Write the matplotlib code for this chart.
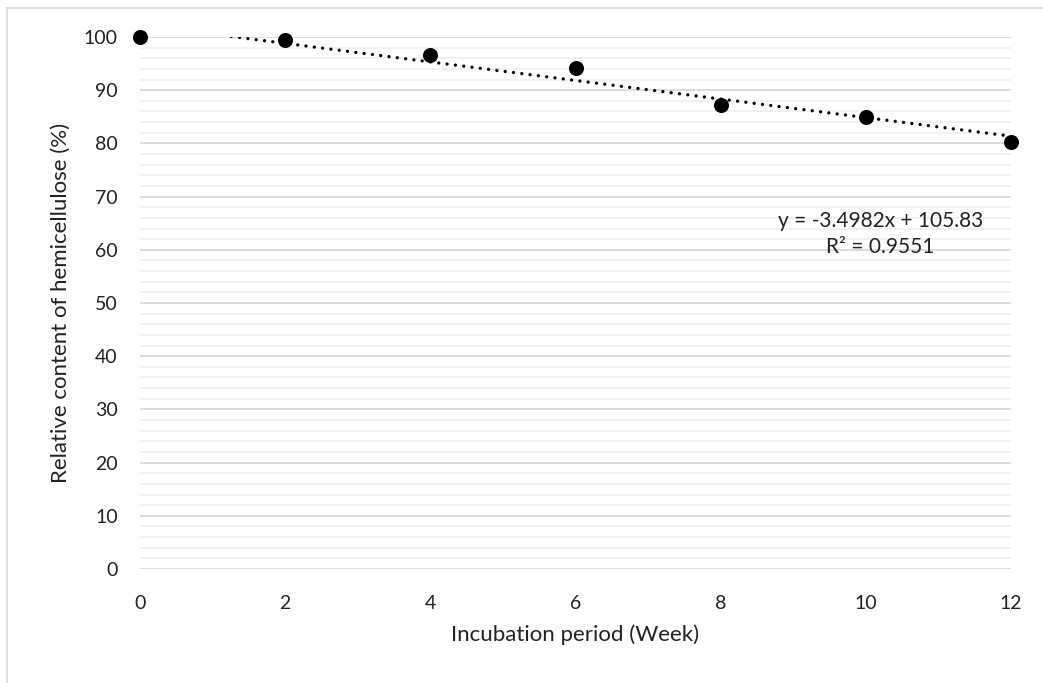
import numpy as np
import matplotlib
matplotlib.use('Agg')
import matplotlib.pyplot as plt
from matplotlib.lines import Line2D

plt.rcParams.update({
    "font.family": ["Lato", "DejaVu Sans"],
    "font.size": 14,
})

# incubation data
weeks = [0, 2, 4, 6, 8, 10, 12]
hemicellulose = [100.0, 99.5, 96.6, 94.2, 87.3, 85.0, 80.2]
equation_text = "y = -3.4982x + 105.83"
r2_text = "R² = 0.9551"


def main():
    fig = plt.figure(figsize=(10.43, 6.83), dpi=100)
    ax = fig.add_axes([140 / 1043, 1 - 569 / 683, 871 / 1043, 532 / 683])

    # excel linear trendline is fitted against the point index (1..n)
    idx = np.arange(1, len(weeks) + 1)
    slope, intercept = np.polyfit(idx, hemicellulose, 1)
    xs = np.linspace(0, 12, 200)
    ax.plot(xs, slope * (xs / 2 + 1) + intercept, color='black', linewidth=2.4,
            linestyle=(0, (0.01, 2.5)), dash_capstyle='round', zorder=3)

    ax.plot(weeks, hemicellulose, linestyle='none', marker='o', markersize=9.8,
            color='black', zorder=4, clip_on=False)

    ax.set_xlim(0, 12)
    ax.set_ylim(0, 100)
    ax.set_xticks(range(0, 13, 2))
    ax.set_yticks(range(0, 101, 10))
    ax.set_yticks(range(0, 101, 2), minor=True)
    ax.grid(True, which='major', axis='y', color='#d9d9d9', linewidth=1.3, zorder=1)
    ax.grid(True, which='minor', axis='y', color='#f0f0f0', linewidth=1.3, zorder=0)
    ax.set_axisbelow(True)
    for s in ax.spines.values():
        s.set_visible(False)
    ax.tick_params(which='both', length=0, labelsize=14, colors='#222222')
    ax.tick_params(axis='x', pad=19)
    ax.tick_params(axis='y', pad=16)

    ax.set_xlabel('Incubation period (Week)', fontsize=16, labelpad=9, color='#222222')
    ax.set_ylabel('Relative content of hemicellulose (%)', fontsize=16, labelpad=9, color='#222222')

    ax.text(10.2, 65.5, equation_text, ha='center', va='center', fontsize=15, color='#222222')
    ax.text(10.2, 60.5, r2_text, ha='center', va='center', fontsize=15, color='#222222')

    # chart area border (only top and left edges are visible)
    fig.add_artist(Line2D([7 / 1043, 1], [1 - 8 / 683, 1 - 8 / 683], color='#d9d9d9', linewidth=1.2))
    fig.add_artist(Line2D([7 / 1043, 7 / 1043], [0, 1 - 8 / 683], color='#d9d9d9', linewidth=1.2))

    fig.savefig('out.png', dpi=100)


if __name__ == '__main__':
    main()
